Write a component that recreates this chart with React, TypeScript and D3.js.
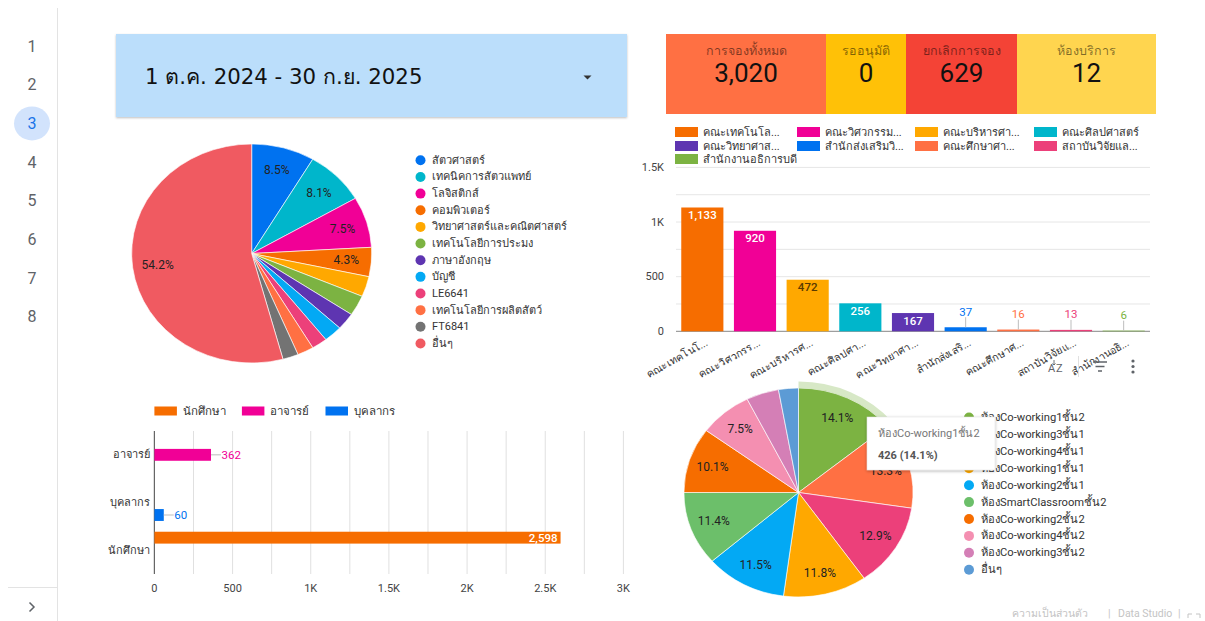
import React from "react";
import * as d3 from "d3";

// ---------------- data ----------------
const pageNumbers = ["1", "2", "3", "4", "5", "6", "7", "8"];
const activePage = "3";
const dateRangeLabel = "1 ต.ค. 2024 - 30 ก.ย. 2025";

const kpiLabels = ["การจองทั้งหมด", "รออนุมัติ", "ยกเลิกการจอง", "ห้องบริการ"];
const kpiValues = [3020, 0, 629, 12];
const kpiColors = ["#ff7043", "#ffc107", "#f44336", "#ffd54f"];

const majorLabels = [
  "สัตวศาสตร์", "เทคนิคการสัตวแพทย์", "โลจิสติกส์", "คอมพิวเตอร์",
  "วิทยาศาสตร์และคณิตศาสตร์", "เทคโนโลยีการประมง", "ภาษาอังกฤษ", "บัญชี",
  "LE6641", "เทคโนโลยีการผลิตสัตว์", "FT6841", "อื่นๆ",
];
const majorShares = [8.5, 8.1, 7.5, 4.3, 3.0, 3.0, 2.5, 2.5, 2.1, 2.2, 2.1, 54.2];
const majorColors = [
  "#0072f0", "#00b6cb", "#f10096", "#f66d00", "#ffa800", "#7cb342",
  "#5e35b1", "#03a9f4", "#ec407a", "#ff7043", "#737373", "#f05a61",
];

const facultyLegend = [
  "คณะเทคโนโล...", "คณะวิศวกรรม...", "คณะบริหารศา...", "คณะศิลปศาสตร์",
  "คณะวิทยาศาส...", "สำนักส่งเสริมวิ...", "คณะศึกษาศา...", "สถาบันวิจัยแล...",
  "สำนักงานอธิการบดี",
];
const facultyTicks = [
  "คณะเทคโนโ...", "คณะวิศวกรร...", "คณะบริหารศ...", "คณะศิลปศา...",
  "คณะวิทยาศา...", "สำนักส่งเสริ...", "คณะศึกษาศ...", "สถาบันวิจัยแ...",
  "สำนักงานอธิ...",
];
const facultyValues = [1133, 920, 472, 256, 167, 37, 16, 13, 6];
const facultyColors = [
  "#f66d00", "#f10096", "#ffa800", "#00b6cb", "#5e35b1",
  "#0072f0", "#ff7043", "#ec407a", "#7cb342",
];
const facultyYTicks = [0, 500, 1000, 1500];

const personCategories = ["อาจารย์", "บุคลากร", "นักศึกษา"];
const personSeries = ["นักศึกษา", "อาจารย์", "บุคลากร"];
const personColors = ["#f66d00", "#f10096", "#0072f0"];
// values[category][series]
const personValues = [
  [0, 362, 0],
  [0, 0, 60],
  [2598, 0, 0],
];
const personXTicks = [0, 500, 1000, 1500, 2000, 2500, 3000];

const roomLabels = [
  "ห้องCo-working1ชั้น2", "ห้องCo-working3ชั้น1", "ห้องCo-working4ชั้น1",
  "ห้องCo-working1ชั้น1", "ห้องCo-working2ชั้น1", "ห้องSmartClassroomชั้น2",
  "ห้องCo-working2ชั้น2", "ห้องCo-working4ชั้น2", "ห้องCo-working3ชั้น2", "อื่นๆ",
];
const roomShares = [14.1, 13.3, 12.9, 11.8, 11.5, 11.4, 10.1, 7.5, 4.6, 2.8];
const roomColors = [
  "#7cb342", "#ff7043", "#ec407a", "#ffa800", "#03a9f4",
  "#6cbf6a", "#f66d00", "#f48fb1", "#d47fb6", "#5c9bd5",
];
const tooltipTitle = "ห้องCo-working1ชั้น2";
const tooltipValue = "426 (14.1%)";

// ---------------- layout ----------------
const W = 1205;
const H = 621;
const F = "Roboto, 'Noto Sans', 'DejaVu Sans', sans-serif";
const STRETCH = 1.096; // the dashboard is shown slightly stretched horizontally
const kpiBounds = [666, 826, 906, 1017, 1156];

const fmtK = (v: number) => (v === 0 ? "0" : v >= 1000 ? `${d3.format("~")(v / 1000)}K` : `${v}`);

function Pie({ cx, cy, r, values, colors, minLabel, highlight }: any) {
  const pie = d3.pie<number>().sort(null).value((d) => d);
  const arcs = pie(values);
  const arc = d3.arc<d3.PieArcDatum<number>>().innerRadius(0).outerRadius(r);
  const lab = d3.arc<d3.PieArcDatum<number>>().innerRadius(r * 0.79).outerRadius(r * 0.79);
  const halo = d3.arc<d3.PieArcDatum<number>>().innerRadius(r).outerRadius(r + 6.5);
  return (
    <g>
      <g transform={`translate(${cx},${cy}) scale(${STRETCH},1)`}>
        {arcs.map((a, i) => (
          <path key={i} d={arc(a) || ""} fill={colors[i]} stroke="#fff" strokeWidth={0.6} />
        ))}
        {highlight !== undefined && (
          <path d={halo(arcs[highlight]) || ""} fill={colors[highlight]} opacity={0.3} />
        )}
      </g>
      {arcs.map((a, i) => {
        if (a.data < minLabel) return null;
        const [lx, ly] = lab.centroid(a);
        return (
          <text key={i} x={cx + lx * STRETCH} y={cy + ly} textAnchor="middle" dominantBaseline="central"
            fontFamily={F} fontSize={12} fill="#222">
            {`${a.data.toFixed(1)}%`}
          </text>
        );
      })}
    </g>
  );
}

export default function App() {
  // faculty bar chart scales
  const bx = d3.scaleBand<string>().domain(facultyTicks).range([676, 1150]).paddingInner(0.2).paddingOuter(0.1);
  const by = d3.scaleLinear().domain([0, 1500]).range([331.3, 167.4]);
  const byGrid = d3.range(0, 1501, 250);

  // person chart scales
  const px = d3.scaleLinear().domain([0, 3000]).range([154.4, 623.4]);
  const pxGrid = d3.range(0, 3001, 250);
  const pCat = d3.scaleBand<string>().domain(personCategories).range([431, 574]).paddingInner(0.2).paddingOuter(0.1);
  const pSer = d3.scaleBand<string>().domain(personSeries).range([0, pCat.bandwidth()]).padding(0.05);

  const legendStep1 = 16.65;
  const legendStep2 = 16.9;
  const facLegendCols = [675, 797, 915, 1034];
  const facLegendRows = [132, 146, 159];

  return (
    <div style={{ position: "absolute", left: 0, top: 0, width: W, height: H, background: "#fff" }}>
      <svg width={W} height={H} viewBox={`0 0 ${W} ${H}`} style={{ display: "block" }}>
        <defs>
          <filter id="sh" x="-5%" y="-10%" width="110%" height="130%">
            <feDropShadow dx="0" dy="1" stdDeviation="1" floodColor="#000" floodOpacity="0.25" />
          </filter>
          <filter id="tt" x="-10%" y="-10%" width="120%" height="130%">
            <feDropShadow dx="0" dy="1" stdDeviation="1.5" floodColor="#000" floodOpacity="0.3" />
          </filter>
        </defs>
        <rect width={W} height={H} fill="#fff" />

        {/* sidebar */}
        <line x1={57.5} y1={8} x2={57.5} y2={H} stroke="#e3e3e3" />
        <line x1={8} y1={587.5} x2={57} y2={587.5} stroke="#e3e3e3" />
        {pageNumbers.map((p, i) => {
          const y = 46 + i * 38.7;
          const active = p === activePage;
          return (
            <g key={p}>
              {active && <ellipse cx={32} cy={y} rx={18} ry={17} fill="#d2e3fc" />}
              <text x={32} y={y} textAnchor="middle" dominantBaseline="central" fontFamily={F} fontSize={16}
                fill={active ? "#1a73e8" : "#5f6368"}>{p}</text>
            </g>
          );
        })}
        <path d="M29.5 602.5 l4.5 4.5 l-4.5 4.5" fill="none" stroke="#5f6368" strokeWidth={1.5} />

        {/* date range control */}
        <rect x={116} y={34} width={511} height={83} fill="#bbdefb" filter="url(#sh)" />
        <text x={145} y={84} fontFamily="'DejaVu Sans', Verdana, sans-serif" fontSize={21.3} fill="#111">{dateRangeLabel}</text>
        <path d="M583.5 75.5 h8 l-4 4 z" fill="#333" />

        {/* KPI scorecards */}
        {kpiLabels.map((l, i) => {
          const x0 = kpiBounds[i];
          const x1 = kpiBounds[i + 1];
          const cx = (x0 + x1) / 2;
          return (
            <g key={l}>
              <rect x={x0} y={34} width={x1 - x0} height={80} fill={kpiColors[i]} />
              <text x={cx} y={50.5} textAnchor="middle" dominantBaseline="central" fontFamily={F} fontSize={12.5}
                fill="#000" fillOpacity={0.5}>{l}</text>
              <text x={cx} y={73} textAnchor="middle" dominantBaseline="central" fontFamily={F} fontSize={26}
                fill="#111">{d3.format(",")(kpiValues[i])}</text>
            </g>
          );
        })}

        {/* pie 1 */}
        <Pie cx={251.7} cy={253.5} r={109.5} values={majorShares} colors={majorColors} minLabel={4} />
        {majorLabels.map((l, i) => {
          const y = 160.3 + i * legendStep1;
          return (
            <g key={l}>
              <circle cx={420.5} cy={y} r={5} fill={majorColors[i]} />
              <text x={432} y={y} dominantBaseline="central" fontFamily={F} fontSize={11} fill="#333">{l}</text>
            </g>
          );
        })}

        {/* faculty bar chart */}
        {byGrid.map((v) => (
          <line key={v} x1={676} x2={1150} y1={by(v)} y2={by(v)} stroke={v === 0 ? "#9e9e9e" : "#e6e6e6"} strokeWidth={v === 0 ? 1.2 : 1} />
        ))}
        {facultyYTicks.map((v) => (
          <text key={v} x={664} y={by(v)} textAnchor="end" dominantBaseline="central" fontFamily={F} fontSize={11} fill="#444">{fmtK(v)}</text>
        ))}
        {facultyLegend.map((l, i) => {
          const col = i % 4;
          const row = Math.floor(i / 4);
          const x = facLegendCols[col];
          const y = facLegendRows[row];
          return (
            <g key={l}>
              <rect x={x} y={y - 5} width={23} height={10} fill={facultyColors[i]} />
              <text x={x + 28} y={y} dominantBaseline="central" fontFamily={F} fontSize={11} fill="#333">{l}</text>
            </g>
          );
        })}
        {facultyTicks.map((t, i) => {
          const v = facultyValues[i];
          const x = bx(t)!;
          const w = bx.bandwidth();
          const top = by(v);
          const inside = by(0) - top > 14;
          const c = x + w / 2;
          const darkText = facultyColors[i] === "#ffa800";
          return (
            <g key={t}>
              <rect x={x} y={top} width={w} height={by(0) - top} fill={facultyColors[i]} />
              {inside ? (
                <text x={c} y={top + 7.5} textAnchor="middle" dominantBaseline="central" fontFamily={F} fontSize={11.5}
                  fontWeight={500} fill={darkText ? "#5a3b00" : "#fff"}>{d3.format(",")(v)}</text>
              ) : (
                <g>
                  <line x1={c} x2={c} y1={top - 10} y2={top} stroke="#bdbdbd" />
                  <text x={c} y={top - 15.5} textAnchor="middle" dominantBaseline="central" fontFamily={F} fontSize={11.5}
                    fill={facultyColors[i]}>{v}</text>
                </g>
              )}
              <text transform={`translate(${c + 6},${345}) rotate(-29)`} textAnchor="end" fontFamily={F} fontSize={10.5} fill="#333">{t}</text>
            </g>
          );
        })}
        {/* chart hover toolbar */}
        <line x1={1078.5} x2={1078.5} y1={356} y2={377} stroke="#e0e0e0" />
        <text x={1048} y={372} fontFamily={F} fontSize={11} fill="#5f6368">A</text>
        <text x={1056} y={372} fontFamily={F} fontSize={11} fill="#5f6368">Z</text>
        <path d="M1054 360 v5 m-1.5 -1.5 l1.5 1.5 l1.5 -1.5" stroke="#5f6368" fill="none" strokeWidth={0.9} />
        <g stroke="#5f6368" strokeWidth={1.5}>
          <line x1={1093} x2={1107} y1={362} y2={362} />
          <line x1={1095.5} x2={1104.5} y1={366.5} y2={366.5} />
          <line x1={1098} x2={1102} y1={371} y2={371} />
        </g>
        {[361, 366.5, 372].map((y) => (
          <circle key={y} cx={1133} cy={y} r={1.6} fill="#5f6368" />
        ))}

        {/* person horizontal bar chart */}
        {personSeries.map((s, i) => {
          const xs = [154.4, 241.9, 325.5][i];
          return (
            <g key={s}>
              <rect x={xs} y={406.5} width={22.5} height={9} fill={personColors[i]} />
              <text x={xs + 28.3} y={411} dominantBaseline="central" fontFamily={F} fontSize={11.5} fill="#333">{s}</text>
            </g>
          );
        })}
        {pxGrid.map((v) => (
          <line key={v} x1={px(v)} x2={px(v)} y1={431} y2={574} stroke="#e0e0e0" />
        ))}
        <line x1={px(0)} x2={px(0)} y1={431} y2={574} stroke="#666" strokeWidth={1.2} />
        {personXTicks.map((v) => (
          <text key={v} x={px(v)} y={588} textAnchor="middle" dominantBaseline="central" fontFamily={F} fontSize={11} fill="#444">{fmtK(v)}</text>
        ))}
        {personCategories.map((c, ci) => (
          <g key={c}>
            <text x={150} y={pCat(c)! + pCat.bandwidth() / 2} textAnchor="end" dominantBaseline="central" fontFamily={F} fontSize={11} fill="#333">{c}</text>
            {personSeries.map((s, si) => {
              const v = personValues[ci][si];
              if (!v) return null;
              const y = pCat(c)! + pSer(s)!;
              const h = pSer.bandwidth();
              const xe = px(v);
              const big = xe - px(0) > 60;
              return (
                <g key={s}>
                  <rect x={px(0)} y={y} width={xe - px(0)} height={h} fill={personColors[si]} />
                  {big ? (
                    <text x={xe - 3} y={y + h / 2} textAnchor="end" dominantBaseline="central" fontFamily={F} fontSize={11.5}
                      fontWeight={500} fill="#fff">{d3.format(",")(v)}</text>
                  ) : (
                    <g>
                      <line x1={xe} x2={xe + 10} y1={y + h / 2} y2={y + h / 2} stroke="#bdbdbd" />
                      <text x={xe + 10.5} y={y + h / 2} dominantBaseline="central" fontFamily={F} fontSize={11.5}
                        fill={personColors[si]}>{d3.format(",")(v)}</text>
                    </g>
                  )}
                </g>
              );
            })}
          </g>
        ))}

        {/* pie 2 */}
        <Pie cx={798.5} cy={492.5} r={104.5} values={roomShares} colors={roomColors} minLabel={5} highlight={0} />
        {roomLabels.map((l, i) => {
          const y = 417.6 + i * legendStep2;
          return (
            <g key={l}>
              <circle cx={969} cy={y} r={5} fill={roomColors[i]} />
              <text x={981} y={y} dominantBaseline="central" fontFamily={F} fontSize={11.2} fill="#333">{l}</text>
            </g>
          );
        })}
        {/* tooltip */}
        <rect x={867} y={417} width={128} height={53} fill="#fff" stroke="#ddd" strokeWidth={0.5} filter="url(#tt)" />
        <text x={878} y={433.5} dominantBaseline="central" fontFamily={F} fontSize={11} fill="#777">{tooltipTitle}</text>
        <text x={878} y={455} dominantBaseline="central" fontFamily={F} fontSize={11} fontWeight={700} fill="#555">{tooltipValue}</text>

        {/* footer */}
        <g fontFamily={F} fontSize={10.5} fill="#c4c4c4">
          <text x={1012} y={617}>ความเป็นส่วนตัว</text>
          <text x={1108} y={617}>|</text>
          <text x={1118} y={617}>Data Studio</text>
          <text x={1178} y={617}>|</text>
        </g>
        <path d="M1188 618 v-4 h4 M1196 614 h4 v4" fill="none" stroke="#c4c4c4" />
      </svg>
    </div>
  );
}
